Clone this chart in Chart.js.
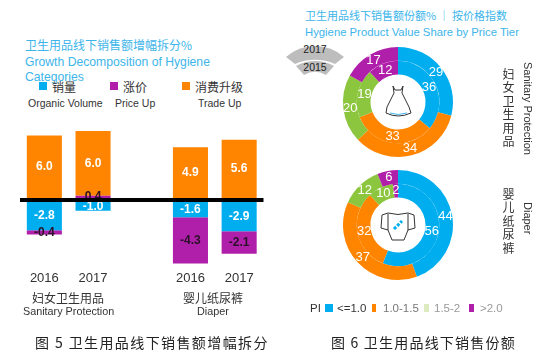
<!DOCTYPE html>
<html>
<head>
<meta charset="utf-8">
<script src="https://cdn.jsdelivr.net/npm/chart.js@4/dist/chart.umd.min.js"></script>
<style>
    html, body { margin: 0; padding: 0; background: #fff; }
    #page {
        position: relative; width: 548px; height: 355px; overflow: hidden;
        font-family: "Liberation Sans", "Noto Sans CJK SC", sans-serif; color: #333;
    }
    #page canvas { position: absolute; }
    .t { position: absolute; white-space: nowrap; line-height: 1; }
    .title { color: #3db5ea; }
    .swatch { position: absolute; width: 8px; height: 8px; }
    .vertical { writing-mode: vertical-rl; }
    .cjk { font-family: "Noto Sans CJK SC", sans-serif; }
    svg { position: absolute; left: 0; top: 0; }
</style>
</head>
<body>
<div id="page">
    <svg width="548" height="355" fill="none">
        <path d="M286,57 A43.7,43.7 0 0 1 344,57 L335,64 A52,52 0 0 0 295,64 Z" fill="#bdbdbd"/>
        <path d="M296,66 A38.6,38.6 0 0 1 334,66 L326,75 A22,22 0 0 0 304,75 Z" fill="#bdbdbd"/>
    </svg>

    <div class="t title cjk" style="left:25px;top:39px;font-size:12px">卫生用品线下销售额增幅拆分%</div>
    <div class="t title" style="left:25px;top:56px;font-size:12.2px">Growth Decomposition of Hygiene</div>
    <div class="t title" style="left:25px;top:71px;font-size:12.2px">Categories</div>

    <div class="swatch" style="left:39px;top:82px;background:#00aeef"></div>
    <div class="t cjk" style="left:52px;top:81px;font-size:12px">销量</div>
    <div class="swatch" style="left:110px;top:82px;background:#b01fa9"></div>
    <div class="t cjk" style="left:123px;top:81px;font-size:12px">涨价</div>
    <div class="swatch" style="left:182px;top:82px;background:#ff8500"></div>
    <div class="t cjk" style="left:195px;top:81px;font-size:12px">消费升级</div>
    <div class="t" style="left:28px;top:98px;font-size:10.5px">Organic Volume</div>
    <div class="t" style="left:115px;top:98px;font-size:10.5px">Price Up</div>
    <div class="t" style="left:198px;top:98px;font-size:10.5px">Trade Up</div>

    <canvas id="growthChart" width="274" height="165" style="left:0;top:125px"></canvas>

    <div class="t cjk" style="left:32px;top:292px;font-size:12px">妇女卫生用品</div>
    <div class="t" style="left:23px;top:306px;font-size:10.8px">Sanitary Protection</div>
    <div class="t cjk" style="left:183px;top:292px;font-size:12px">婴儿纸尿裤</div>
    <div class="t" style="left:197px;top:306px;font-size:10.8px">Diaper</div>
    <div class="t cjk" style="left:35px;top:335px;font-size:14px;letter-spacing:1.4px;color:#222">图 5 卫生用品线下销售额增幅拆分</div>

    <div class="t title cjk" style="left:305px;top:10px;font-size:11px">卫生用品线下销售额份额% ｜ 按价格指数</div>
    <div class="t title" style="left:305px;top:27px;font-size:11.3px">Hygiene Product Value Share by Price Tier</div>
    <div class="t" style="left:301px;top:44px;width:28px;text-align:center;font-size:10.5px;color:#222">2017</div>
    <div class="t" style="left:301px;top:62px;width:28px;text-align:center;font-size:10.5px;color:#222">2015</div>

    <canvas id="sanitaryChart" width="120" height="120" style="left:338px;top:42px"></canvas>
    <canvas id="diaperChart" width="120" height="120" style="left:338px;top:165px"></canvas>

    <svg width="548" height="355" fill="none" stroke="#333" stroke-width="1" stroke-linejoin="round">
        <path d="M393,86 L394,93 L387,107 L386,113 Q398,119 411,113 L409,107 L402,93 L403,86 L401,90 L395,90 Z"/>
        <path d="M390,113 Q398,116 407,113" stroke="#3db5ea"/>
        <path d="M382,215 L388,213 Q398,216 408,213 L414,215 L415,228 L408,230 L404,240 L392,240 L388,230 L381,228 Z"/>
        <path d="M388,214 L388,230 M408,214 L408,230"/>
        <path d="M394,229 L402,221" stroke="#00aeef" stroke-width="3" stroke-dasharray="3 1.5"/>
    </svg>

    <div class="t vertical cjk" style="left:502px;top:68px;font-size:12px;letter-spacing:1.5px">妇女卫生用品</div>
    <div class="t vertical" style="left:522px;top:62px;font-size:11px">Sanitary Protection</div>
    <div class="t vertical cjk" style="left:502px;top:188px;font-size:12px;letter-spacing:1.5px">婴儿纸尿裤</div>
    <div class="t vertical" style="left:522px;top:202px;font-size:11px">Diaper</div>

    <div class="t" style="left:310px;top:303px;font-size:11.5px">PI</div>
    <div class="swatch" style="left:325px;top:304px;background:#00aeef"></div>
    <div class="t" style="left:337px;top:303px;font-size:11.5px">&lt;=1.0</div>
    <div class="swatch" style="left:372px;top:304px;width:4px;background:#ff8500"></div>
    <div class="t" style="left:383px;top:303px;font-size:11.5px;color:#777">1.0-1.5</div>
    <div class="swatch" style="left:424px;top:304px;width:5px;background:#dcecc0"></div>
    <div class="t" style="left:434px;top:303px;font-size:11.5px;color:#999">1.5-2</div>
    <div class="swatch" style="left:469px;top:304px;width:5px;background:#b01fa9"></div>
    <div class="t" style="left:480px;top:303px;font-size:11.5px;color:#999">&gt;2.0</div>
    <div class="t cjk" style="left:331px;top:335px;font-size:14px;letter-spacing:1.2px;color:#222">图 6 卫生用品线下销售份额</div>
</div>

<script>
const BLUE = "#00aeef";
const PURPLE = "#b01fa9";
const ORANGE = "#ff8500";
const GREEN = "#8cc63f";

// empty slot in the middle keeps the two product groups apart
const years = ["2016", "2017", "", "2016", "2017"];
const organicVolume = [-2.8, -1.0, null, -1.6, -2.9];
const priceUp = [-0.4, 0.4, null, -4.3, -2.1];
const tradeUp = [6.0, 6.0, null, 4.9, 5.6];

const priceTiers = ["<=1.0", "1.0-1.5", "1.5-2", ">2.0"];
const sanitary2017 = [29, 34, 20, 17];
const sanitary2015 = [36, 33, 19, 12];
const diaper2017 = [44, 37, 12, 6];
const diaper2015 = [56, 32, 10, 2];

// no datalabels plugin available, so write the values on the marks here
const barLabels = {
    id: "barLabels",
    afterDatasetsDraw(chart) {
        const ctx = chart.ctx;
        ctx.save();
        ctx.font = "bold 12px 'Liberation Sans'";
        ctx.textAlign = "center";
        ctx.textBaseline = "middle";
        chart.data.datasets.forEach((dataset, i) => {
            chart.getDatasetMeta(i).data.forEach((bar, j) => {
                const value = dataset.data[j];
                if (value === null) {
                    return;
                }
                const pos = bar.getCenterPoint();
                ctx.fillStyle = dataset.labelColor;
                ctx.fillText(value.toFixed(1), pos.x, pos.y);
            });
        });
        ctx.restore();
    },
};

const ringLabels = {
    id: "ringLabels",
    afterDatasetsDraw(chart) {
        const ctx = chart.ctx;
        ctx.save();
        ctx.font = "13px 'Liberation Sans'";
        ctx.fillStyle = "#fff";
        ctx.textAlign = "center";
        ctx.textBaseline = "middle";
        chart.data.datasets.forEach((dataset, i) => {
            chart.getDatasetMeta(i).data.forEach((arc, j) => {
                const pos = arc.getCenterPoint();
                ctx.fillText(dataset.data[j], pos.x, pos.y);
            });
        });
        ctx.restore();
    },
};

function renderGrowthChart() {
    new Chart(document.getElementById("growthChart"), {
        type: "bar",
        data: {
            labels: years,
            datasets: [
                { label: "Organic Volume", data: organicVolume, backgroundColor: BLUE, labelColor: "#fff" },
                { label: "Price Up", data: priceUp, backgroundColor: PURPLE, labelColor: "#2a1028" },
                { label: "Trade Up", data: tradeUp, backgroundColor: ORANGE, labelColor: "#fff" },
            ],
        },
        options: {
            responsive: false,
            animation: false,
            categoryPercentage: 0.72,
            barPercentage: 1,
            layout: { padding: { left: 20, right: 10.5, top: 5, bottom: 0 } },
            plugins: { legend: { display: false }, tooltip: { enabled: false } },
            scales: {
                x: {
                    stacked: true,
                    grid: { display: false, drawTicks: false },
                    border: { display: false },
                    afterFit(scale) {
                        scale.height = 20;
                    },
                    ticks: {
                        padding: 1,
                        maxRotation: 0,
                        color: "#333",
                        font: { family: "Liberation Sans", size: 13 },
                    },
                },
                y: {
                    display: true,
                    stacked: true,
                    min: -6.5,
                    max: 6.5,
                    afterFit(scale) {
                        scale.width = 0;
                    },
                    ticks: { display: false, stepSize: 0.5 },
                    border: { display: false },
                    grid: {
                        z: 1,
                        drawTicks: false,
                        lineWidth: 4,
                        color: (context) => (context.tick.value === 0 ? "#000" : "rgba(0,0,0,0)"),
                    },
                },
            },
        },
        plugins: [barLabels],
    });
}

function renderRingChart(canvasId, outer, inner) {
    const colors = [BLUE, ORANGE, GREEN, PURPLE];

    new Chart(document.getElementById(canvasId), {
        type: "doughnut",
        data: {
            labels: priceTiers,
            datasets: [
                { label: "2017", data: outer, backgroundColor: colors, borderWidth: 0 },
                { label: "2015", data: inner, backgroundColor: colors, borderWidth: 0 },
            ],
        },
        options: {
            responsive: false,
            animation: false,
            cutout: "50%",
            layout: { padding: 5 },
            plugins: { legend: { display: false }, tooltip: { enabled: false } },
        },
        plugins: [ringLabels],
    });
}

renderGrowthChart();
renderRingChart("sanitaryChart", sanitary2017, sanitary2015);
renderRingChart("diaperChart", diaper2017, diaper2015);
</script>
</body>
</html>
